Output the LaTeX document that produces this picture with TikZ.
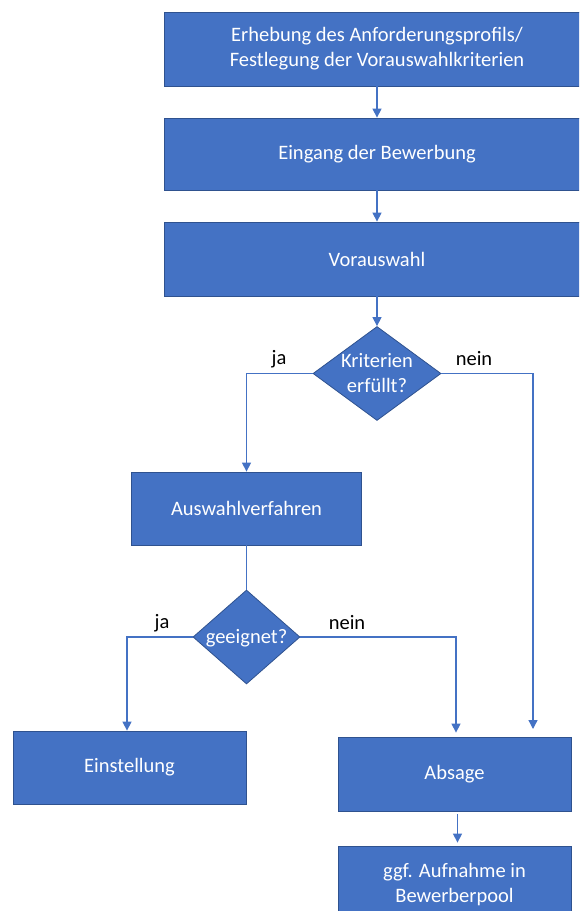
\documentclass[tikz,border=0pt]{standalone}
\usepackage{fontspec}
\setmainfont{Carlito}
\usetikzlibrary{shapes.geometric,arrows.meta}
\definecolor{boxblue}{HTML}{4472C4}
\definecolor{boxedge}{HTML}{2F528F}
\definecolor{linec}{HTML}{4472C4}
\newcommand{\zbox}[1]{\makebox[0pt]{\raisebox{-0.32em}[0pt][0pt]{\begin{tabular}{@{}c@{}}#1\end{tabular}}}}
\begin{document}
\begin{tikzpicture}[x=1pt,y=-1pt,
  box/.style={rectangle, fill=boxblue, draw=boxedge, line width=0.8pt, text=white,
    font=\fontsize{20.5}{25}\selectfont, align=center, inner sep=0},
  dia/.style={diamond, fill=boxblue, draw=boxedge, line width=0.8pt, text=white,
    font=\fontsize{20.5}{25}\selectfont, inner sep=0, minimum height=94pt},
  conn/.style={draw=linec, line width=1.3pt},
  arr/.style={conn, -{Triangle[length=9pt,width=9pt]}},
  lbl/.style={font=\fontsize{20.5}{24}\selectfont, text=black, inner sep=0}]
\useasboundingbox (0,0) rectangle (579,911);
\clip (0,0) rectangle (579,911);

\node[box, minimum width=426pt, minimum height=74pt] (b1) at (377,49)
  {Erhebung des Anforderungsprofils/\\Festlegung der Vorauswahlkriterien};
\node[box, minimum width=426pt, minimum height=72pt] (b2) at (377,154) {Eingang der Bewerbung};
\node[box, minimum width=426pt, minimum height=74pt] (b3) at (377,259) {Vorauswahl};
\node[dia, minimum width=128pt] (d1) at (377,373.5) {\zbox{Kriterien\\erfüllt?}};
\node[box, minimum width=230pt, minimum height=73pt] (a) at (246.5,508.5) {Auswahlverfahren};
\node[dia, minimum width=107pt] (d2) at (246.5,637) {\zbox{geeignet?}};
\node[box, minimum width=233pt, minimum height=73pt] (e) at (129.5,767.5) {Einstellung};
\node[box, minimum width=233pt, minimum height=74pt] (abs) at (454.5,774) {Absage};
\node[box, minimum width=233pt, minimum height=78pt] (last) at (454.5,885) {ggf. Aufnahme in\\Bewerberpool};

\node[lbl] (ja1) at (279,359) {ja};
\node[lbl] (nein1) at (474,359) {nein};
\node[lbl] (ja2) at (162,623) {ja};
\node[lbl] (nein2) at (347,623) {nein};

\coordinate (r1) at (533,729);

\draw[arr] (b1) -- (b2);
\draw[arr] (b2) -- (b3);
\draw[arr] (b3) -- (d1);
\draw[arr] (d1.west) -| (a.north);
\draw[arr] (d1.east) -| (r1);
\draw[conn] (a.south) -- (d2.north);
\draw[arr] (d2.west) -| ([xshift=-2.5pt]e.north);
\draw[arr, shorten >=4pt] (d2.east) -| ([xshift=1.5pt]abs.north);
\draw[arr, shorten <=3pt, shorten >=3pt] ([xshift=3pt]abs.south) -- ([xshift=3pt]last.north);
\end{tikzpicture}
\end{document}
